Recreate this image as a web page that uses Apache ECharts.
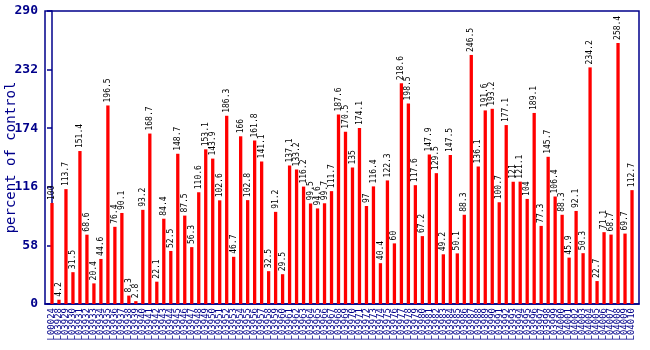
<!DOCTYPE html>
<html>
<head>
<meta charset="utf-8">
<script src="https://cdn.jsdelivr.net/npm/echarts@6/dist/echarts.min.js"></script>
<style>
  html, body { margin: 0; padding: 0; background: #fff; }
  #chart { width: 650px; height: 350px; }
</style>
</head>
<body>
<div id="chart"></div>
<script>
// Sample identifiers along the x axis
var sampleIds = [
  "L00024",
  "L03928","L03929","L03930","L03931","L03932","L03933","L03934","L03935","L03936","L03937",
  "L03938","L03939","L03940","L03941","L03942","L03943","L03944","L03945","L03946","L03947",
  "L03948","L03949","L03950","L03951","L03952","L03953","L03954","L03955","L03956","L03957",
  "L03958","L03959","L03960","L03961","L03962","L03963","L03964","L03965","L03966","L03967",
  "L03968","L03969","L03970","L03971","L03972","L03973","L03974","L03975","L03976","L03977",
  "L03978","L03979","L03980","L03981","L03982","L03983","L03984","L03985","L03986","L03987",
  "L03988","L03989","L03990","L03991","L03992","L03993","L03994","L03995","L03996","L03997",
  "L03998","L03999","L04000","L04001","L04002","L04003","L04004","L04005","L04006","L04007",
  "L04008","L04009","L04010"
];

// Percent of control for each sample
var percentOfControl = [
  100, 4.2, 113.7, 31.5, 151.4, 68.6, 20.4, 44.6, 196.5, 76.4,
  90.1, 8.3, 2.8, 93.2, 168.7, 22.1, 84.4, 52.5, 148.7, 87.5,
  56.3, 110.6, 153.1, 143.9, 102.6, 186.3, 46.7, 166, 102.8, 161.8,
  141.1, 32.5, 91.2, 29.5, 137.1, 133.2, 116.2, 99.5, 94.6, 99.7,
  111.7, 187.6, 170.5, 135, 174.1, 97, 116.4, 40.4, 122.3, 60,
  218.6, 198.5, 117.6, 67.2, 147.9, 129.5, 49.2, 147.5, 50.1, 88.3,
  246.5, 136.1, 191.6, 193.2, 100.7, 177.1, 121, 121.1, 104, 189.1,
  77.3, 145.7, 106.4, 88.3, 45.9, 92.1, 50.3, 234.2, 22.7, 71.1,
  68.7, 258.4, 69.7, 112.7
];

// Y axis range and step
var yTicks = [0, 58, 116, 174, 232, 290];

var navy = '#00008b';
var chart = echarts.init(document.getElementById('chart'), null, { renderer: 'canvas' });

var points = percentOfControl.map(function (v, i) { return [i, v]; });

chart.setOption({
  animation: false,
  backgroundColor: '#ffffff',
  grid: {
    left: 45, right: 11, top: 11, bottom: 46,
    outerBoundsMode: 'none',
    containLabel: false,
    show: true, borderColor: navy, borderWidth: 1.5, backgroundColor: 'transparent'
  },
  xAxis: {
    type: 'value',
    min: -1,
    max: sampleIds.length,
    interval: 1,
    splitLine: { show: false },
    axisLine: { show: true, lineStyle: { color: navy, width: 1.5 } },
    axisTick: { show: false },
    axisLabel: {
      rotate: 90,
      interval: 0,
      margin: 4,
      color: navy,
      fontFamily: 'DejaVu Sans Mono',
      fontSize: 9,
      hideOverlap: false,
      showMinLabel: true,
      showMaxLabel: true,
      formatter: function (v) {
        return (v >= 0 && v < sampleIds.length) ? sampleIds[v] : '';
      }
    }
  },
  yAxis: {
    type: 'value',
    min: yTicks[0],
    max: yTicks[yTicks.length - 1],
    interval: yTicks[1] - yTicks[0],
    name: 'percent of control',
    nameLocation: 'middle',
    nameGap: 27,
    nameMoveOverlap: false,
    nameTextStyle: { color: navy, fontFamily: 'DejaVu Sans Mono', fontSize: 14 },
    splitLine: { show: false },
    axisLine: { show: true, lineStyle: { color: navy, width: 1.5 } },
    axisTick: { show: true, length: 5, lineStyle: { color: navy, width: 1.5 } },
    axisLabel: {
      margin: 7,
      color: navy,
      fontFamily: 'DejaVu Sans Mono',
      fontWeight: 'bold',
      fontSize: 13
    }
  },
  series: [{
    type: 'bar',
    data: points,
    barWidth: 3.3,
    itemStyle: { color: '#ff0000' },
    label: {
      show: true,
      position: 'top',
      rotate: 90,
      align: 'left',
      verticalAlign: 'middle',
      distance: 3,
      color: '#000000',
      fontFamily: 'DejaVu Sans Mono',
      fontSize: 8,
      formatter: function (p) { return String(p.value[1]); }
    }
  }]
});
</script>
</body>
</html>
